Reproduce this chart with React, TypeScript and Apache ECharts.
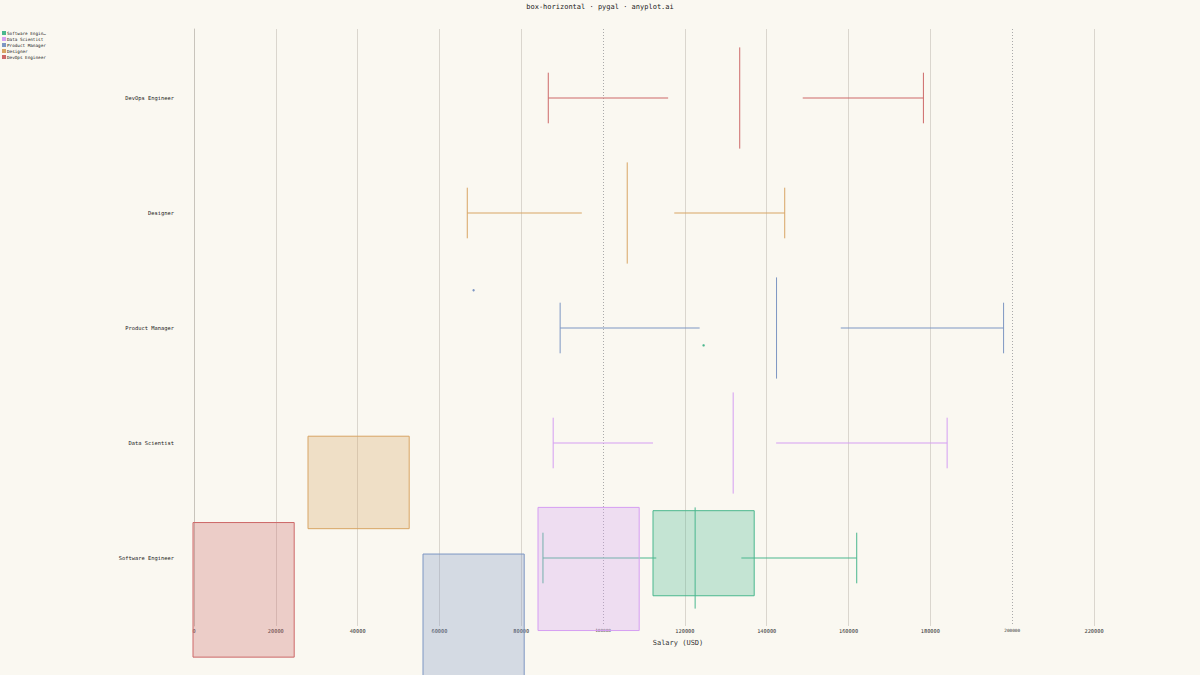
import React, { useEffect, useRef } from "react";
import * as echarts from "echarts";

const TITLE = "box-horizontal · pygal · anyplot.ai";
const X_TITLE = "Salary (USD)";
const ROLES = ["Software Engineer", "Data Scientist", "Product Manager", "Designer", "DevOps Engineer"];
const MINS = [85300, 87800, 89500, 66800, 86600];
const Q1S = [113000, 112200, 123600, 94800, 115900];
const MEDIANS = [122500, 131800, 142400, 105900, 133400];
const Q3S = [133800, 142300, 158100, 117400, 148800];
const MAXS = [162000, 184100, 197900, 144400, 178300];
const OUTLIERS: number[][] = [[72600], [], [59100], [], []];
const COLORS = ["#4AB78E", "#D59EF2", "#7D96C3", "#D8A564", "#CD6969"];
const X_MIN = 0;
const X_MAX = 220000;
const X_STEP = 20000;
const MAJOR_TICKS = [100000, 200000];

const FONT = "DejaVu Sans Mono";
const BOX_HALF = 0.44;
const CAP_HALF = 0.22;
const SWAP_REF = 48.4;

function hexA(hex: string, a: number) {
  const n = parseInt(hex.slice(1), 16);
  return `rgba(${(n >> 16) & 255},${(n >> 8) & 255},${n & 255},${a})`;
}

function makeRenderItem(role: number) {
  return (params: any, api: any) => {
    const c = api.value(0);
    const color = COLORS[role];
    const px = (v: number) => api.coord([v, c])[0];
    const py = (cc: number) => api.coord([0, cc])[1];
    const xMin = px(api.value(1));
    const xQ1 = px(api.value(2));
    const xMed = px(api.value(3));
    const xQ3 = px(api.value(4));
    const xMax = px(api.value(5));
    const yc = py(c);
    const yTop = py(c + BOX_HALF);
    const yBot = py(c - BOX_HALF);
    const cTop = py(c + CAP_HALF);
    const cBot = py(c - CAP_HALF);
    const left = px(0);
    const ls = { stroke: color, lineWidth: 1 };
    const children: any[] = [
      { type: "line", shape: { x1: xMin, y1: cTop, x2: xMin, y2: cBot }, style: ls },
      { type: "line", shape: { x1: xMax, y1: cTop, x2: xMax, y2: cBot }, style: ls },
      { type: "line", shape: { x1: xMed, y1: yTop, x2: xMed, y2: yBot }, style: ls },
      { type: "line", shape: { x1: xMin, y1: yc, x2: xQ1, y2: yc }, style: ls },
      { type: "line", shape: { x1: xQ3, y1: yc, x2: xMax, y2: yc }, style: ls },
      {
        type: "rect",
        shape: {
          x: left + (yTop - SWAP_REF),
          y: SWAP_REF + (xQ1 - left),
          width: yBot - yTop,
          height: xQ3 - xQ1,
        },
        style: { fill: hexA(color, 0.3), stroke: color, lineWidth: 1 },
      },
    ];
    OUTLIERS[role].forEach((o) => {
      children.push({
        type: "circle",
        shape: { cx: left + (yc - SWAP_REF), cy: SWAP_REF + (px(o) - left), r: 1.2 },
        style: { fill: color },
      });
    });
    return { type: "group", children };
  };
}

export default function App() {
  const ref = useRef<HTMLDivElement>(null);
  useEffect(() => {
    if (!ref.current) return;
    const chart = echarts.init(ref.current, undefined, { renderer: "svg" });
    const series = ROLES.map((name, i) => ({
      name,
      type: "custom",
      clip: false,
      itemStyle: { color: COLORS[i] },
      renderItem: makeRenderItem(i),
      encode: { x: [1, 2, 3, 4, 5], y: 0 },
      data: [[i, MINS[i], Q1S[i], MEDIANS[i], Q3S[i], MAXS[i]]],
      z: 3,
    }));
    const grey = "#DAD6CE";
    chart.setOption({
      animation: false,
      backgroundColor: "#FAF8F1",
      textStyle: { fontFamily: FONT },
      title: {
        text: TITLE,
        left: "center",
        top: 3,
        padding: 0,
        textStyle: { fontSize: 7, fontWeight: "normal", fontFamily: FONT, color: "#222" },
      },
      legend: {
        orient: "vertical",
        left: 2,
        top: 31,
        padding: 0,
        itemWidth: 4,
        itemHeight: 4,
        itemGap: 2,
        icon: "rect",
        data: ROLES,
        formatter: (n: string) => (n.length > 15 ? n.slice(0, 14) + "…" : n),
        textStyle: { fontSize: 4.3, fontFamily: FONT, color: "#222", padding: [0, 0, 0, -4] },
      },
      grid: { left: 194, right: 106, top: 29, bottom: 49 },
      xAxis: [
        {
          type: "value",
          min: X_MIN,
          max: X_MAX,
          interval: X_STEP,
          axisLine: { show: false },
          axisTick: { show: false },
          axisLabel: {
            margin: 2,
            fontSize: 5.3,
            fontFamily: FONT,
            color: "#333",
            formatter: (v: number) => (MAJOR_TICKS.includes(v) ? `{s|${v}}` : `${v}`),
            rich: { s: { fontSize: 4.4, fontFamily: FONT, color: "#333" } },
          },
          splitLine: {
            show: true,
            lineStyle: { color: ["transparent", grey, grey, grey, grey], width: 1 },
          },
        },
        {
          type: "value",
          min: X_MIN,
          max: X_MAX,
          interval: 100000,
          show: true,
          axisLine: { show: false },
          axisTick: { show: false },
          axisLabel: { show: false },
          splitLine: {
            show: true,
            lineStyle: { color: ["transparent", "#AAA", "#AAA", "transparent"], type: [1, 2], width: 1 },
          },
        },
      ],
      yAxis: {
        type: "value",
        min: -0.5913,
        max: 4.6,
        axisLine: { show: true, lineStyle: { color: "#C8C4BC", width: 1 } },
        axisTick: { show: false },
        splitLine: { show: false },
        axisLabel: {
          customValues: [0, 1, 2, 3, 4],
          formatter: (v: number) => ROLES[Math.round(v)] ?? "",
          margin: 20,
          fontSize: 5.4,
          fontFamily: FONT,
          color: "#222",
        },
      },
      graphic: [
        {
          type: "text",
          x: 678,
          y: 643,
          style: {
            text: X_TITLE,
            fontSize: 7,
            fontFamily: FONT,
            fill: "#333",
            align: "center",
            verticalAlign: "middle",
          },
        },
      ],
      series,
    });
    return () => chart.dispose();
  }, []);
  return (
    <div
      ref={ref}
      style={{ position: "fixed", left: 0, top: 0, width: 1200, height: 675 }}
    />
  );
}
